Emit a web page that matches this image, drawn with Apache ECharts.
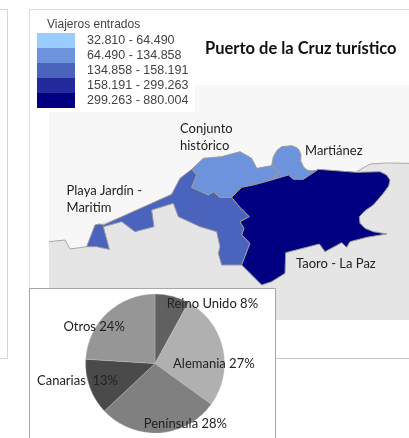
<!DOCTYPE html>
<html lang="es" style="height: 100%">
<head>
  <meta charset="utf-8">
</head>
<body style="height: 100%; margin: 0; background: #fff">
  <div id="container" style="width: 409px; height: 438px"></div>

  <script src="https://cdn.jsdelivr.net/npm/echarts@6/dist/echarts.min.js"></script>
  <script>
    // legend classes (viajeros entrados)
    const classLabels = ['32.810 - 64.490', '64.490 - 134.858', '134.858 - 158.191', '158.191 - 299.263', '299.263 - 880.004'];
    const classMin = [32810, 64490, 134858, 158191, 299263];
    const classMax = [64490, 134858, 158191, 299263, 880004];
    const classColors = ['#99ccff', '#6c93dc', '#4a63bd', '#222a9c', '#000080'];

    // zones: values estimated, only the class can be read from the map
    const zoneNames = ['Playa Jardín - Maritim', 'Conjunto histórico', 'Martiánez', 'Taoro - La Paz'];
    const zoneValues = [146000, 100000, 100000, 590000];

    // pie
    const pieNames = ['Reino Unido', 'Alemania', 'Península', 'Canarias ', 'Otros'];
    const pieValues = [8, 27, 28, 13, 24];
    const pieColors = ['#606060', '#b0b0b0', '#808080', '#4a4a4a', '#969696'];
    const pieLabelShift = [[48, -23], [22, 9], [28, 23], [-42, 5], [-35, -9]];

    // outlines, traced at 3x from the crop that starts at (40, 100)
    const landOutline = [[27,425],[75,420],[90,447],[140,440],[165,375],[250,348],[395,283],[455,208],[490,175],[545,170],[600,155],[635,175],[650,205],[695,197],[725,140],[755,137],[777,150],[780,180],[800,210],[835,210],[950,215],[990,192],[1107,190],[1107,660],[27,660]];
    const zoneOutlines = [
      [[455,208],[470,225],[455,262],[505,285],[520,275],[540,292],[575,292],[600,322],[628,350],[600,365],[612,385],[605,405],[630,430],[605,495],[545,495],[535,460],[540,440],[530,395],[480,380],[415,350],[400,310],[335,330],[342,380],[285,395],[245,365],[190,380],[208,448],[170,440],[140,440],[165,375],[178,372],[190,375],[250,348],[395,283],[420,235]],
      [[455,208],[490,175],[545,170],[600,155],[635,175],[650,205],[695,197],[718,215],[695,240],[640,255],[605,262],[575,292],[540,292],[520,275],[505,285],[455,262],[470,225]],
      [[695,197],[700,170],[712,150],[725,140],[755,137],[770,143],[777,150],[783,165],[782,182],[790,200],[800,210],[815,213],[835,210],[790,238],[760,238],[745,225],[695,240],[718,215]],
      [[575,292],[605,262],[640,255],[695,240],[745,225],[760,238],[790,238],[835,208],[950,217],[1020,215],[1040,225],[1050,240],[1046,258],[1030,280],[1000,315],[975,332],[958,350],[960,370],[975,385],[1000,395],[1040,402],[980,412],[930,425],[920,442],[905,428],[855,455],[838,432],[737,458],[735,520],[695,545],[665,555],[635,525],[605,495],[630,430],[605,405],[612,385],[600,365],[628,350],[600,322]]
    ];
    const coastLines = [
      [[27,425],[75,420],[90,447],[140,440]],
      [[950,215],[990,192],[1040,189],[1107,190]]
    ];

    const toMap = (pts) => pts.map((p) => [40 + p[0] / 3, 338 - p[1] / 3]);
    const ring = (pts) => {
      const r = toMap(pts);
      r.push(r[0]);
      return [r];
    };

    const features = [{
      type: 'Feature',
      properties: { name: 'Tierra' },
      geometry: { type: 'Polygon', coordinates: ring(landOutline) }
    }].concat(zoneNames.map((name, i) => ({
      type: 'Feature',
      properties: { name },
      geometry: { type: 'Polygon', coordinates: ring(zoneOutlines[i]) }
    })));
    echarts.registerMap('puerto', { type: 'FeatureCollection', features });

    const mapFont = { fontFamily: 'Lato', fontSize: 13, fill: '#222' };
    const mapText = (x, y, text) => ({
      type: 'text', x, y, z: 4, style: Object.assign({ text, lineHeight: 17, verticalAlign: 'middle' }, mapFont)
    });

    const chart = echarts.init(document.getElementById('container'), null, { renderer: 'canvas' });
    chart.setOption({
      animation: false,
      backgroundColor: '#fff',
      geo: {
        map: 'puerto',
        roam: false,
        silent: true,
        aspectScale: 1,
        boundingCoords: [[0, 438], [409, 0]],
        layoutCenter: ['50%', '50%'],
        layoutSize: 438,
        itemStyle: { areaColor: '#e5e5e5', borderColor: '#9a9a9a', borderWidth: 1 },
        regions: [{ name: 'Tierra', itemStyle: { areaColor: '#e5e5e5', borderWidth: 0 } }],
        label: { show: false },
        emphasis: { disabled: true }
      },
      visualMap: {
        type: 'piecewise',
        seriesIndex: 0,
        left: 37,
        top: 33,
        padding: 0,
        itemWidth: 38,
        itemHeight: 15,
        itemGap: 0,
        itemSymbol: 'rect',
        textGap: 12,
        selectedMode: false,
        inverse: true,
        textStyle: { fontFamily: 'Liberation Sans', fontSize: 12.5, color: '#444' },
        pieces: classLabels.map((label, i) => ({ min: classMin[i], max: classMax[i], label, color: classColors[i] }))
      },
      series: [
        {
          type: 'map',
          geoIndex: 0,
          data: zoneNames.map((name, i) => ({ name, value: zoneValues[i] }))
        },
        {
          type: 'lines',
          coordinateSystem: 'geo',
          polyline: true,
          silent: true,
          lineStyle: { color: '#a8a8a8', width: 1, opacity: 1 },
          data: coastLines.map((c) => ({ coords: toMap(c) }))
        },
        {
          type: 'pie',
          z: 10,
          silent: true,
          center: [155, 363.5],
          radius: [0, 69.5],
          startAngle: 90,
          clockwise: true,
          itemStyle: { borderColor: '#cfcfcf', borderWidth: 0.3 },
          label: {
            position: 'inside',
            fontFamily: 'Lato',
            fontSize: 13,
            color: '#222',
            formatter: (p) => p.name + ' ' + p.value + '%'
          },
          labelLine: { show: false },
          data: pieNames.map((name, i) => ({
            name,
            value: pieValues[i],
            itemStyle: { color: pieColors[i] },
            label: { offset: pieLabelShift[i] }
          }))
        }
      ],
      graphic: [
        // sea behind the map
        { type: 'polygon', z: 0, shape: { points: [[49, 112], [195, 112], [195, 85], [409, 85], [409, 320], [49, 320]] }, style: { fill: '#f7f7f7' } },
        // panel frames
        { type: 'polyline', z: 1, shape: { points: [[0, 9.5], [7.5, 9.5], [7.5, 358.5], [0, 358.5]] }, style: { stroke: '#d4d4d4', lineWidth: 1, fill: null } },
        { type: 'polyline', z: 1, shape: { points: [[29.5, 288], [29.5, 9.5], [409, 9.5]] }, style: { stroke: '#dcdcdc', lineWidth: 1, fill: null } },
        { type: 'line', z: 1, shape: { x1: 276, y1: 358.5, x2: 409, y2: 358.5 }, style: { stroke: '#c4c4c4', lineWidth: 1 } },
        { type: 'rect', z: 5, shape: { x: 29.5, y: 288.5, width: 246, height: 160 }, style: { fill: '#fff', stroke: '#a6a6a6', lineWidth: 1 } },
        // texts
        { type: 'text', x: 47, y: 25, z: 4, style: { text: 'Viajeros entrados', fontFamily: 'Liberation Sans', fontSize: 12, fill: '#444', verticalAlign: 'middle' } },
        { type: 'text', x: 205, y: 49, z: 4, style: { text: 'Puerto de la Cruz turístico', fontFamily: 'Lato', fontWeight: 'bold', fontSize: 16.5, fill: '#111', verticalAlign: 'middle' } },
        mapText(180, 137, 'Conjunto\nhistórico'),
        mapText(305, 151, 'Martiánez'),
        mapText(66.5, 199, 'Playa Jardín -\nMaritim'),
        mapText(296, 264, 'Taoro - La Paz')
      ]
    });
  </script>
</body>
</html>
